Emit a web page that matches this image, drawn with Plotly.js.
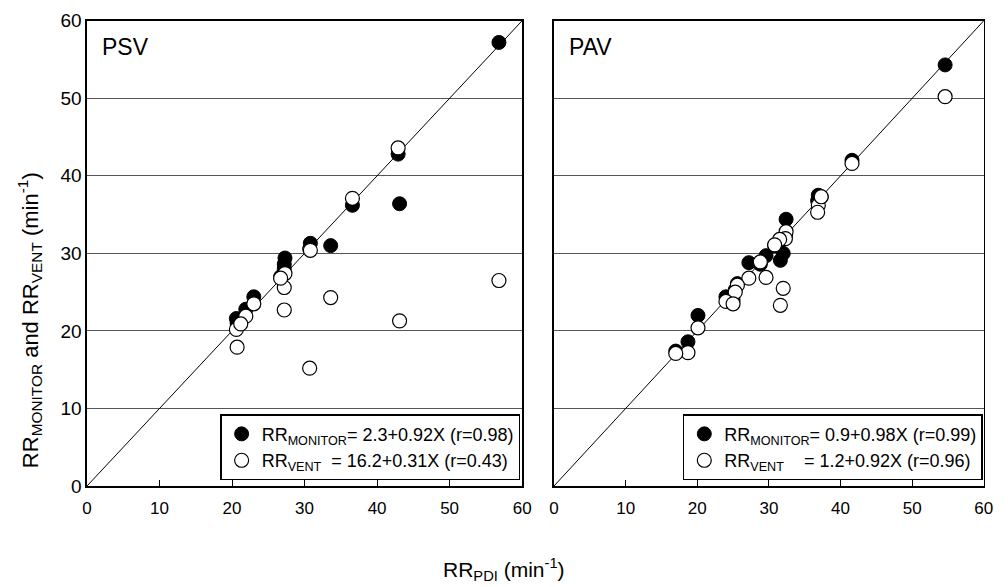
<!DOCTYPE html>
<html>
<head>
<meta charset="utf-8">
<script src="https://cdn.plot.ly/plotly-3.0.1.min.js"></script>
<style>html,body{margin:0;padding:0;background:#fff;}#chart{width:1008px;height:587px;}</style>
</head>
<body>
<div id="chart"></div>
<script>
// PSV panel
var psvPdi     = [56.8, 42.9, 43.1, 36.6, 30.8, 33.6, 30.7, 27.3, 27.2, 27.2, 26.7, 23.0, 21.9, 20.6, 20.7, 21.2];
var psvMonitor = [57.2, 42.8, 36.4, 36.2, 31.3, 31.0, 30.6, 29.4, 28.6, 28.0, 27.0, 24.4, 22.8, 21.6, 21.0, 21.3];
var psvVent    = [26.5, 43.6, 21.3, 37.1, 30.4, 24.3, 15.2, 27.4, 25.6, 22.7, 26.8, 23.5, 21.9, 20.2, 17.9, 20.9];
// PAV panel
var pavPdi     = [54.6, 41.6, 36.9, 37.3, 36.8, 32.4, 32.3, 31.5, 30.8, 32.0, 31.6, 29.6, 28.8, 27.2, 25.6, 25.3, 24.0, 25.0, 20.1, 18.7, 17.0];
var pavMonitor = [54.3, 42.0, 37.5, 37.3, 36.8, 34.4, 32.2, 31.5, 31.0, 30.0, 29.1, 29.7, 28.6, 28.8, 26.1, 25.3, 24.4, 24.0, 22.0, 18.6, 17.4];
var pavVent    = [50.2, 41.6, 36.2, 37.3, 35.3, 32.8, 31.9, 31.8, 31.1, 25.5, 23.3, 26.9, 28.9, 26.8, 25.9, 25.0, 23.8, 23.5, 20.4, 17.2, 17.1];
// identity line
var identityX = [0, 60];
var identityY = [0, 60];
// legend texts
var psvMonitorName = "RR<sub>MONITOR</sub>= 2.3+0.92X (r=0.98)";
var psvVentName    = "RR<sub>VENT</sub>\u00a0 = 16.2+0.31X (r=0.43)";
var pavMonitorName = "RR<sub>MONITOR</sub>= 0.9+0.98X (r=0.99)";
var pavVentName    = "RR<sub>VENT</sub>\u00a0\u00a0\u00a0 = 1.2+0.92X (r=0.96)";
var panelLabels = ["PSV", "PAV"];
var tickVals = [0, 10, 20, 30, 40, 50, 60];

var FONT = "Liberation Sans, Arial, sans-serif";
var filledMarker = {symbol: "circle", size: 14, color: "#000", line: {color: "#000", width: 1}};
var openMarker = {symbol: "circle", size: 14, color: "#fff", line: {color: "#000", width: 1.2}};

var traces = [
  {x: identityX, y: identityY, mode: "lines", line: {color: "#000", width: 1}, showlegend: false, xaxis: "x", yaxis: "y", hoverinfo: "skip"},
  {x: psvPdi, y: psvMonitor, mode: "markers", marker: filledMarker, name: psvMonitorName, xaxis: "x", yaxis: "y", legend: "legend"},
  {x: psvPdi, y: psvVent, mode: "markers", marker: openMarker, name: psvVentName, xaxis: "x", yaxis: "y", legend: "legend"},
  {x: identityX, y: identityY, mode: "lines", line: {color: "#000", width: 1}, showlegend: false, xaxis: "x2", yaxis: "y2", hoverinfo: "skip"},
  {x: pavPdi, y: pavMonitor, mode: "markers", marker: filledMarker, name: pavMonitorName, xaxis: "x2", yaxis: "y2", legend: "legend2"},
  {x: pavPdi, y: pavVent, mode: "markers", marker: openMarker, name: pavVentName, xaxis: "x2", yaxis: "y2", legend: "legend2"}
];

function xAx(domain, anchor) {
  return {
    domain: domain, anchor: anchor, range: [0, 60], tickvals: tickVals, fixedrange: true,
    showgrid: false, zeroline: false, showline: true, mirror: true, linecolor: "#000", linewidth: 1.5,
    ticks: "inside", ticklen: 6, tickcolor: "#000", tickwidth: 1,
    tickfont: {family: FONT, size: 17, color: "#000"}, ticklabelstandoff: 6
  };
}
function yAx(anchor, showLabels) {
  return {
    domain: [0.172, 0.9647], anchor: anchor, range: [0, 60], tickvals: tickVals, fixedrange: true,
    showgrid: true, gridcolor: "#555", gridwidth: 1, zeroline: false,
    showline: true, mirror: true, linecolor: "#000", linewidth: 1.5,
    ticks: "", showticklabels: showLabels,
    tickfont: {family: FONT, size: 19, color: "#000"}
  };
}

var legendCommon = {
  bgcolor: "#fff", bordercolor: "#000", borderwidth: 1.5,
  font: {family: FONT, size: 18, color: "#000"},
  xref: "paper", yref: "paper", xanchor: "right", yanchor: "bottom",
  tracegroupgap: 0, itemclick: false, itemdoubleclick: false
};

var layout = {
  width: 1008, height: 587,
  margin: {l: 0, r: 0, t: 0, b: 0},
  paper_bgcolor: "#fff", plot_bgcolor: "#fff",
  font: {family: FONT, color: "#000"},
  xaxis: xAx([0.0863, 0.518], "y"),
  yaxis: yAx("x", true),
  xaxis2: xAx([0.5496, 0.976], "y2"),
  yaxis2: yAx("x2", false),
  legend: Object.assign({}, legendCommon, {x: 0.516, y: 0.182}),
  legend2: Object.assign({}, legendCommon, {x: 0.975, y: 0.182}),
  annotations: [
    {text: panelLabels[0], xref: "x domain", yref: "y domain", x: 0.03, y: 0.943, xanchor: "left", yanchor: "middle", showarrow: false, font: {family: FONT, size: 23, color: "#000"}},
    {text: panelLabels[1], xref: "x2 domain", yref: "y2 domain", x: 0.03, y: 0.943, xanchor: "left", yanchor: "middle", showarrow: false, font: {family: FONT, size: 23, color: "#000"}},
    {text: "RR<sub>MONITOR</sub> and RR<sub>VENT</sub> (min<sup>-1</sup>)", xref: "paper", yref: "paper", x: 0.03, y: 0.455, textangle: -90, xanchor: "center", yanchor: "middle", showarrow: false, font: {family: FONT, size: 22, color: "#000"}},
    {text: "RR<sub>PDI</sub> (min<sup>-1</sup>)", xref: "paper", yref: "paper", x: 0.5, y: 0.029, xanchor: "center", yanchor: "middle", showarrow: false, font: {family: FONT, size: 21, color: "#000"}}
  ]
};

Plotly.newPlot("chart", traces, layout, {displayModeBar: false, staticPlot: true});
</script>
</body>
</html>
